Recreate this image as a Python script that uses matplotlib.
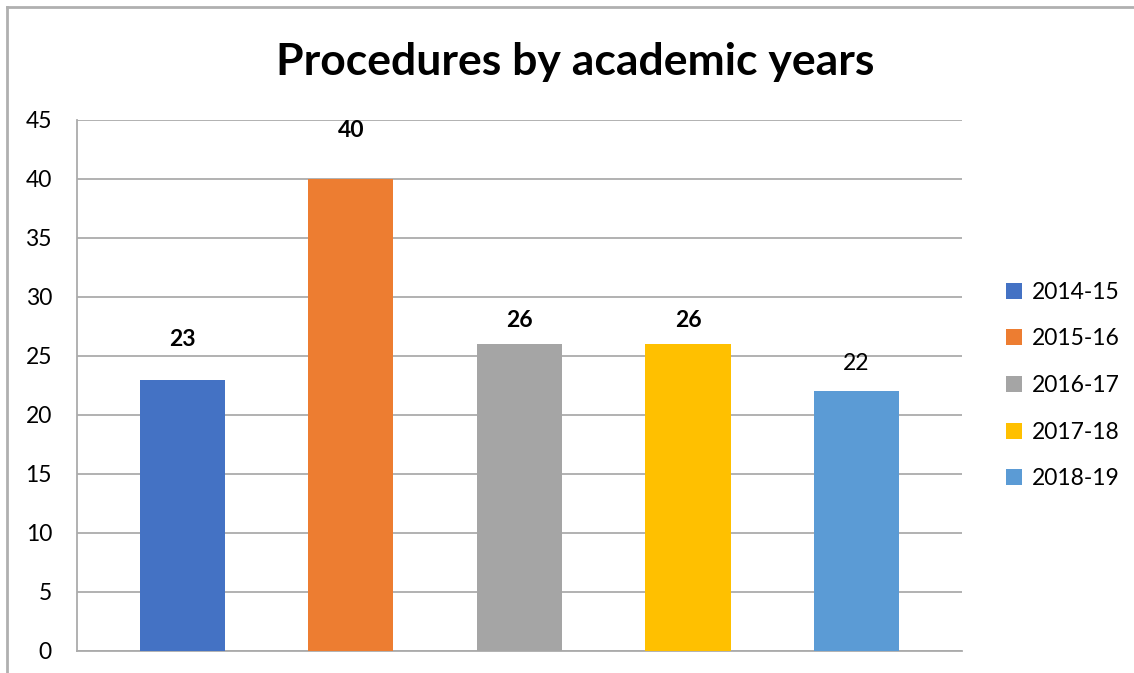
import numpy as np
import matplotlib.pyplot as plt
from matplotlib.lines import Line2D

# academic years and number of procedures
years = ['2014-15', '2015-16', '2016-17', '2017-18', '2018-19']
procedures = [23, 40, 26, 26, 22]
colors = ['#4472C4', '#ED7D31', '#A5A5A5', '#FFC000', '#5B9BD5']
label_bold = [True, True, True, True, False]
label_lift = [3.4, 4.1, 2.0, 2.0, 2.4]  # how far above the bar each value sits

plt.rcParams['font.family'] = ['Lato', 'DejaVu Sans']

fig = plt.figure(figsize=(11.34, 6.73), dpi=100)
ax = fig.add_axes([0.0679, 0.0327, 0.7804, 0.789])

x = np.arange(len(years))
for i, (yr, v, c) in enumerate(zip(years, procedures, colors)):
    ax.bar(x[i], v, width=0.505, color=c, label=yr, zorder=3)
    ax.text(x[i], v + label_lift[i], str(v), ha='center', va='center',
            fontsize=16.5, fontweight='bold' if label_bold[i] else 'normal')

ax.set_xlim(-0.625, len(years) - 0.375)
ax.set_ylim(0, 45)
ax.set_yticks(range(0, 46, 5))
ax.set_xticks([])
ax.tick_params(axis='y', length=0, pad=18, labelsize=16.5)
ax.yaxis.grid(True, color='#ababab', linewidth=1.3, zorder=0)
ax.set_axisbelow(True)
for s in ['top', 'right']:
    ax.spines[s].set_visible(False)
for s in ['left', 'bottom']:
    ax.spines[s].set_color('#ababab')
    ax.spines[s].set_linewidth(1.3)

fig.text(0.507, 0.908, 'Procedures by academic years', ha='center', va='center',
         fontsize=32, fontweight='bold')

leg = ax.legend(loc='center left', bbox_to_anchor=(1.026, 0.50), frameon=False,
                fontsize=16.5, handlelength=0.7, handleheight=0.7,
                handletextpad=0.45, labelspacing=1.12)

# chart frame
fig.add_artist(Line2D([7 / 1134, 1], [1 - 7 / 673, 1 - 7 / 673],
                      transform=fig.transFigure, color='#b0b0b0', linewidth=2))
fig.add_artist(Line2D([7 / 1134, 7 / 1134], [0, 1 - 7 / 673],
                      transform=fig.transFigure, color='#b0b0b0', linewidth=2))

fig.savefig('out.png', dpi=100)
